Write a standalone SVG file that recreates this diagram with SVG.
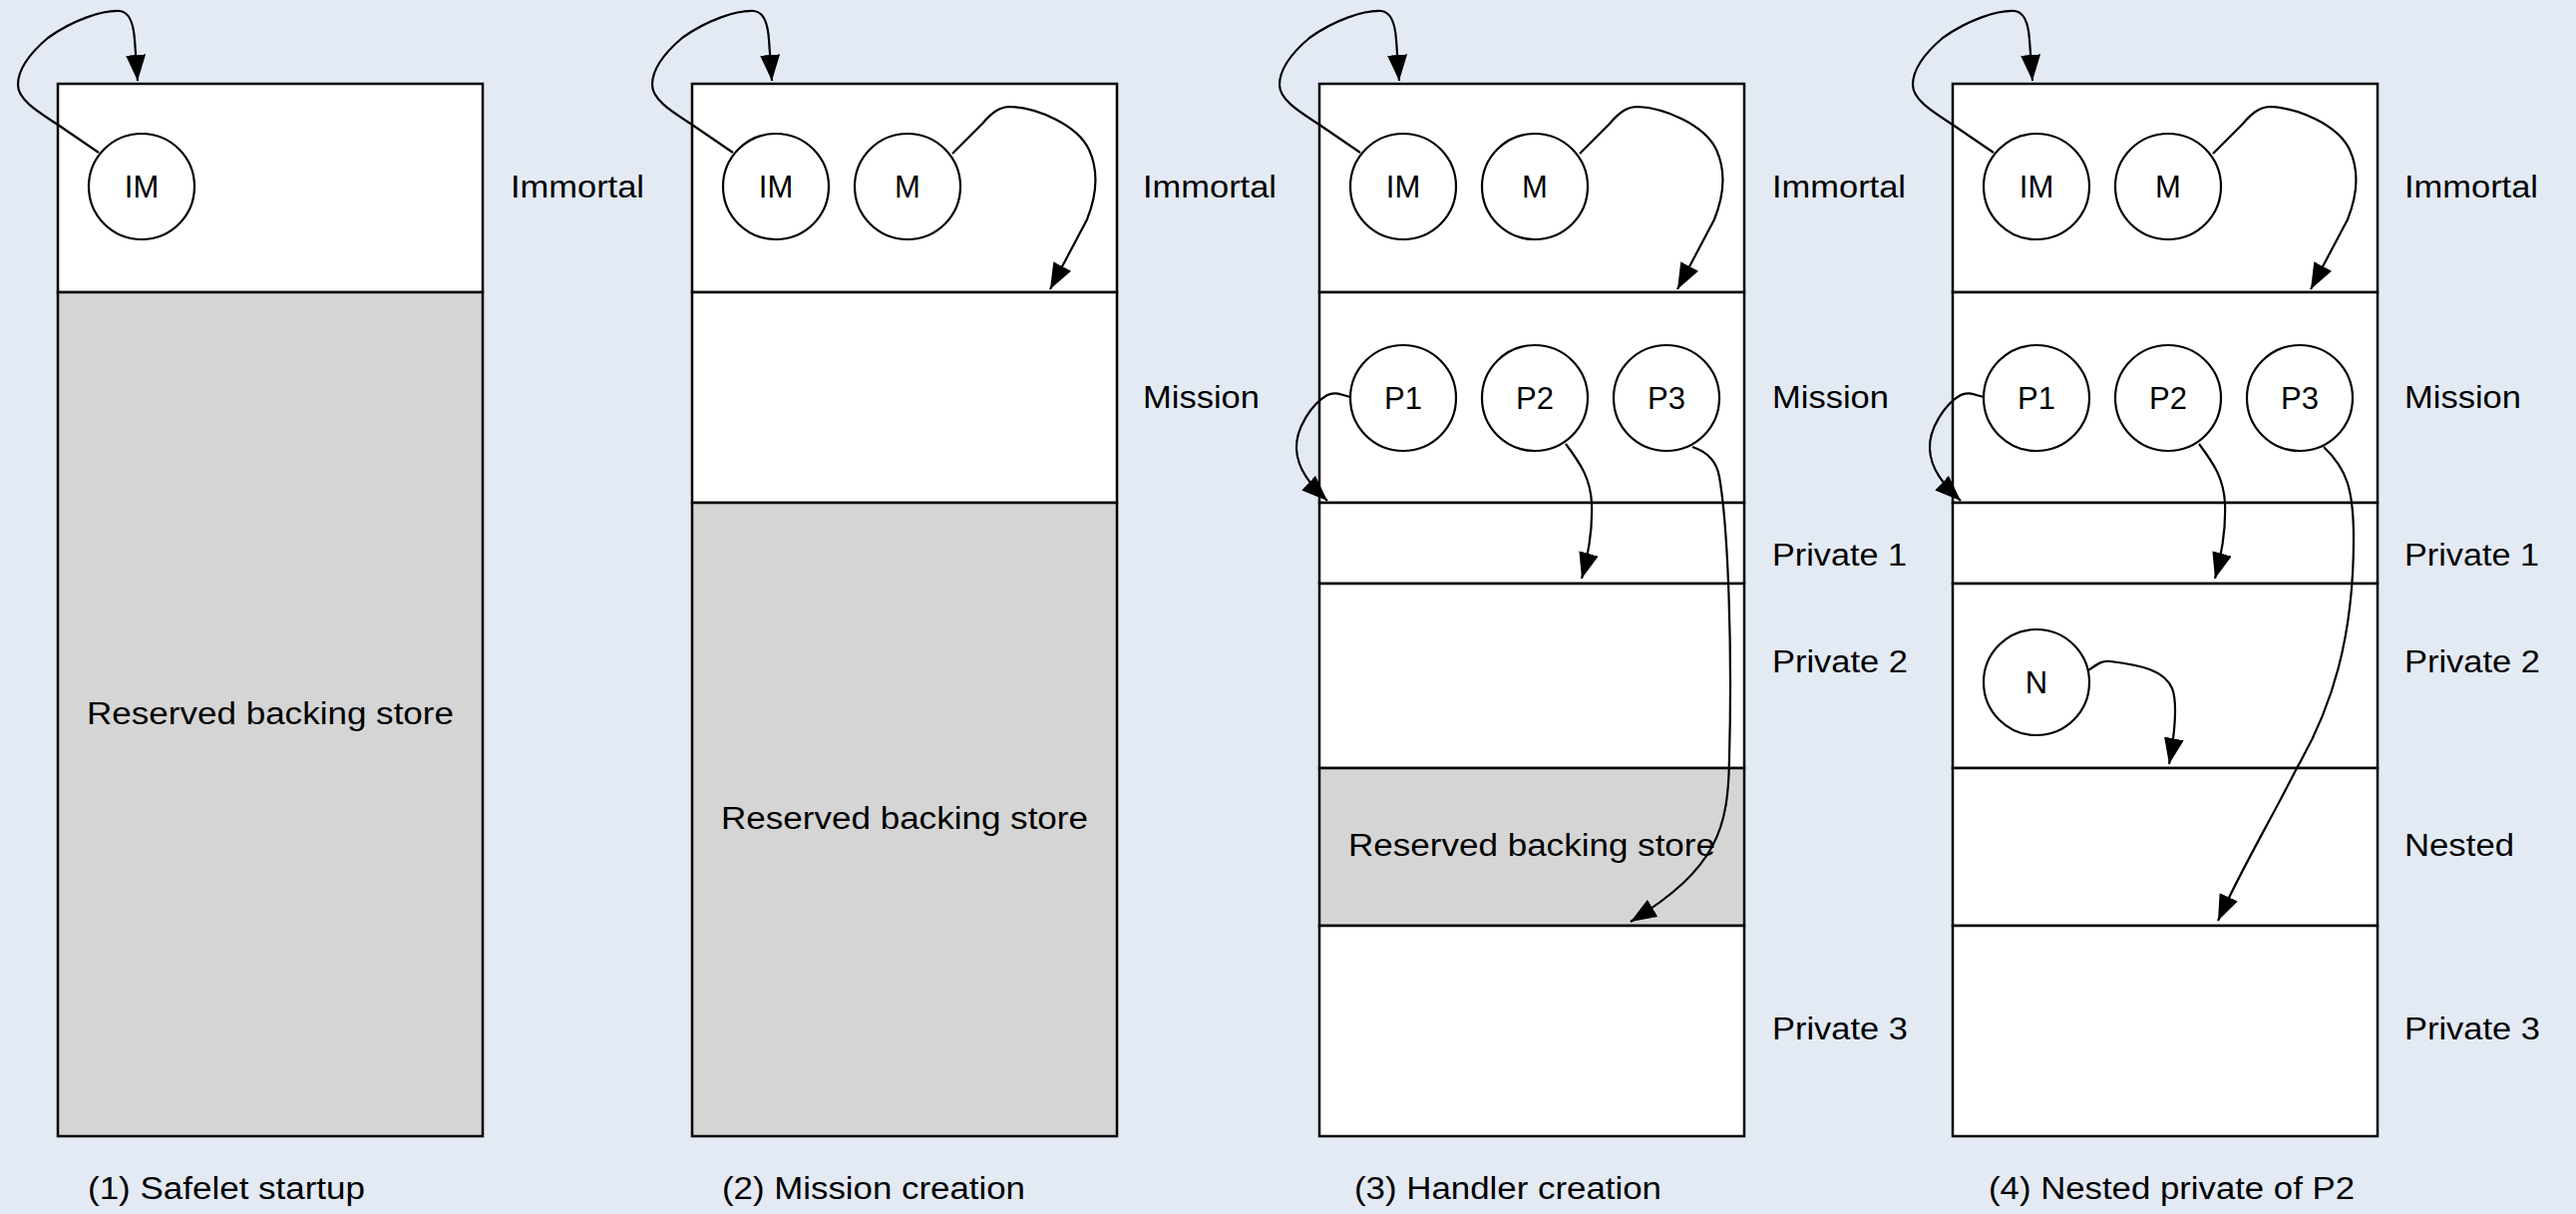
<svg xmlns="http://www.w3.org/2000/svg" width="2583" height="1217" viewBox="0 0 2583 1217">
<style>
.bg{fill:#e3eaf4}
.reg{stroke:#000;stroke-width:2.5}
.w{fill:#fff}
.g{fill:#d5d5d5}
.nd{fill:#fff;stroke:#000;stroke-width:2.2}
text{font-family:"Liberation Sans",Arial,Helvetica,sans-serif;font-size:31px;fill:#000}
.c{text-anchor:middle}
.edge{fill:none;stroke:#000;stroke-width:2.2;marker-end:url(#ah)}
</style>
<defs>
<marker id="ah" viewBox="0 0 26 20" refX="26" refY="10" markerWidth="26" markerHeight="20" markerUnits="userSpaceOnUse" orient="auto"><path d="M0,0 L26,10 L0,20 z" fill="#000"/></marker>
</defs>
<rect class="bg" x="0" y="0" width="2583" height="1217"/>

<!-- Column 1 -->
<g id="col1" transform="translate(58,0)">
  <g id="c1-immortal"><rect class="reg w" x="0" y="84" width="426" height="209"/><text x="454" y="198" textLength="134" lengthAdjust="spacingAndGlyphs">Immortal</text></g>
  <g id="c1-reserved"><rect class="reg g" x="0" y="293" width="426" height="846"/><text class="c" x="213" y="726" textLength="368" lengthAdjust="spacingAndGlyphs">Reserved backing store</text></g>
  <g id="c1-IM"><circle class="nd" cx="84" cy="187" r="53"/><text class="c" x="84" y="198">IM</text></g>
</g>
<text x="88" y="1202" textLength="278" lengthAdjust="spacingAndGlyphs">(1) Safelet startup</text>

<!-- Column 2 -->
<g id="col2" transform="translate(694,0)">
  <g id="c2-immortal"><rect class="reg w" x="0" y="84" width="426" height="209"/><text x="452" y="198" textLength="134" lengthAdjust="spacingAndGlyphs">Immortal</text></g>
  <g id="c2-mission"><rect class="reg w" x="0" y="293" width="426" height="211"/><text x="452" y="409" textLength="117" lengthAdjust="spacingAndGlyphs">Mission</text></g>
  <g id="c2-reserved"><rect class="reg g" x="0" y="504" width="426" height="635"/><text class="c" x="213" y="831" textLength="368" lengthAdjust="spacingAndGlyphs">Reserved backing store</text></g>
  <g id="c2-IM"><circle class="nd" cx="84" cy="187" r="53"/><text class="c" x="84" y="198">IM</text></g>
  <g id="c2-M"><circle class="nd" cx="216" cy="187" r="53"/><text class="c" x="216" y="198">M</text></g>
</g>
<text x="724" y="1202" textLength="304" lengthAdjust="spacingAndGlyphs">(2) Mission creation</text>

<!-- Column 3 -->
<g id="col3" transform="translate(1323,0)">
  <g id="c3-immortal"><rect class="reg w" x="0" y="84" width="426" height="209"/><text x="454" y="198" textLength="134" lengthAdjust="spacingAndGlyphs">Immortal</text></g>
  <g id="c3-mission"><rect class="reg w" x="0" y="293" width="426" height="211"/><text x="454" y="409" textLength="117" lengthAdjust="spacingAndGlyphs">Mission</text></g>
  <g id="c3-private1"><rect class="reg w" x="0" y="504" width="426" height="81"/><text x="454" y="567" textLength="135" lengthAdjust="spacingAndGlyphs">Private 1</text></g>
  <g id="c3-private2"><rect class="reg w" x="0" y="585" width="426" height="185"/><text x="454" y="674" textLength="136" lengthAdjust="spacingAndGlyphs">Private 2</text></g>
  <g id="c3-reserved"><rect class="reg g" x="0" y="770" width="426" height="158"/><text class="c" x="213" y="858" textLength="368" lengthAdjust="spacingAndGlyphs">Reserved backing store</text></g>
  <g id="c3-private3"><rect class="reg w" x="0" y="928" width="426" height="211"/><text x="454" y="1042" textLength="136" lengthAdjust="spacingAndGlyphs">Private 3</text></g>
  <g id="c3-IM"><circle class="nd" cx="84" cy="187" r="53"/><text class="c" x="84" y="198">IM</text></g>
  <g id="c3-M"><circle class="nd" cx="216" cy="187" r="53"/><text class="c" x="216" y="198">M</text></g>
  <g id="c3-P1"><circle class="nd" cx="84" cy="399" r="53"/><text class="c" x="84" y="410">P1</text></g>
  <g id="c3-P2"><circle class="nd" cx="216" cy="399" r="53"/><text class="c" x="216" y="410">P2</text></g>
  <g id="c3-P3"><circle class="nd" cx="348" cy="399" r="53"/><text class="c" x="348" y="410">P3</text></g>
</g>
<text x="1358" y="1202" textLength="308" lengthAdjust="spacingAndGlyphs">(3) Handler creation</text>

<!-- Column 4 -->
<g id="col4" transform="translate(1958,0)">
  <g id="c4-immortal"><rect class="reg w" x="0" y="84" width="426" height="209"/><text x="453" y="198" textLength="134" lengthAdjust="spacingAndGlyphs">Immortal</text></g>
  <g id="c4-mission"><rect class="reg w" x="0" y="293" width="426" height="211"/><text x="453" y="409" textLength="117" lengthAdjust="spacingAndGlyphs">Mission</text></g>
  <g id="c4-private1"><rect class="reg w" x="0" y="504" width="426" height="81"/><text x="453" y="567" textLength="135" lengthAdjust="spacingAndGlyphs">Private 1</text></g>
  <g id="c4-private2"><rect class="reg w" x="0" y="585" width="426" height="185"/><text x="453" y="674" textLength="136" lengthAdjust="spacingAndGlyphs">Private 2</text></g>
  <g id="c4-nested"><rect class="reg w" x="0" y="770" width="426" height="158"/><text x="453" y="858" textLength="110" lengthAdjust="spacingAndGlyphs">Nested</text></g>
  <g id="c4-private3"><rect class="reg w" x="0" y="928" width="426" height="211"/><text x="453" y="1042" textLength="136" lengthAdjust="spacingAndGlyphs">Private 3</text></g>
  <g id="c4-IM"><circle class="nd" cx="84" cy="187" r="53"/><text class="c" x="84" y="198">IM</text></g>
  <g id="c4-M"><circle class="nd" cx="216" cy="187" r="53"/><text class="c" x="216" y="198">M</text></g>
  <g id="c4-P1"><circle class="nd" cx="84" cy="399" r="53"/><text class="c" x="84" y="410">P1</text></g>
  <g id="c4-P2"><circle class="nd" cx="216" cy="399" r="53"/><text class="c" x="216" y="410">P2</text></g>
  <g id="c4-P3"><circle class="nd" cx="348" cy="399" r="53"/><text class="c" x="348" y="410">P3</text></g>
  <g id="c4-N"><circle class="nd" cx="84" cy="684" r="53"/><text class="c" x="84" y="695">N</text></g>
</g>
<text x="1994" y="1202" textLength="367" lengthAdjust="spacingAndGlyphs">(4) Nested private of P2</text>

<!-- Connectors -->
<g id="connectors">
  <g transform="translate(58,0)">
    <path class="edge" d="M 41,153 L 0,125 C -20,112 -40,100 -40,85 C -40,70 -30,55 -10,38 C 15,20 45,10 62,11 C 72,12 76,25 77,40 L 80,81"/>
  </g>
  <g transform="translate(694,0)">
    <path class="edge" d="M 41,153 L 0,125 C -20,112 -40,100 -40,85 C -40,70 -30,55 -10,38 C 15,20 45,10 62,11 C 72,12 76,25 77,40 L 80,81"/>
    <path class="edge" d="M 261,154 L 291,124 C 301,112 309,107 319,107 C 346,108 386,125 398,150 C 408,172 406,195 396,220 L 359,290"/>
  </g>
  <g transform="translate(1323,0)">
    <path class="edge" d="M 41,153 L 0,125 C -20,112 -40,100 -40,85 C -40,70 -30,55 -10,38 C 15,20 45,10 62,11 C 72,12 76,25 77,40 L 80,81"/>
    <path class="edge" d="M 261,154 L 291,124 C 301,112 309,107 319,107 C 346,108 386,125 398,150 C 408,172 406,195 396,220 L 359,290"/>
    <path class="edge" d="M 31,398 C 22,396 16,392 8,396 C -8,405 -24,430 -23,450 C -22,470 -10,485 8,502"/>
    <path class="edge" d="M 247,445 C 262,465 272,480 273,505 C 274,530 270,555 263,580"/>
    <path class="edge" d="M 374,448 C 386,452 398,460 401,478 C 410,530 414,650 411,760 C 410,830 400,870 312,924"/>
  </g>
  <g transform="translate(1958,0)">
    <path class="edge" d="M 41,153 L 0,125 C -20,112 -40,100 -40,85 C -40,70 -30,55 -10,38 C 15,20 45,10 62,11 C 72,12 76,25 77,40 L 80,81"/>
    <path class="edge" d="M 261,154 L 291,124 C 301,112 309,107 319,107 C 346,108 386,125 398,150 C 408,172 406,195 396,220 L 359,290"/>
    <path class="edge" d="M 31,398 C 22,396 16,392 8,396 C -8,405 -24,430 -23,450 C -22,470 -10,485 8,502"/>
    <path class="edge" d="M 247,445 C 262,465 272,480 273,505 C 274,530 270,555 263,580"/>
    <path class="edge" d="M 372,448 C 395,470 402,490 402,540 C 402,640 380,710 345,770 C 320,820 290,870 266,923"/>
    <path class="edge" d="M 136,672 C 146,665 150,662 158,663 C 190,667 212,672 220,690 C 226,705 222,740 217,766"/>
  </g>
</g>
</svg>
